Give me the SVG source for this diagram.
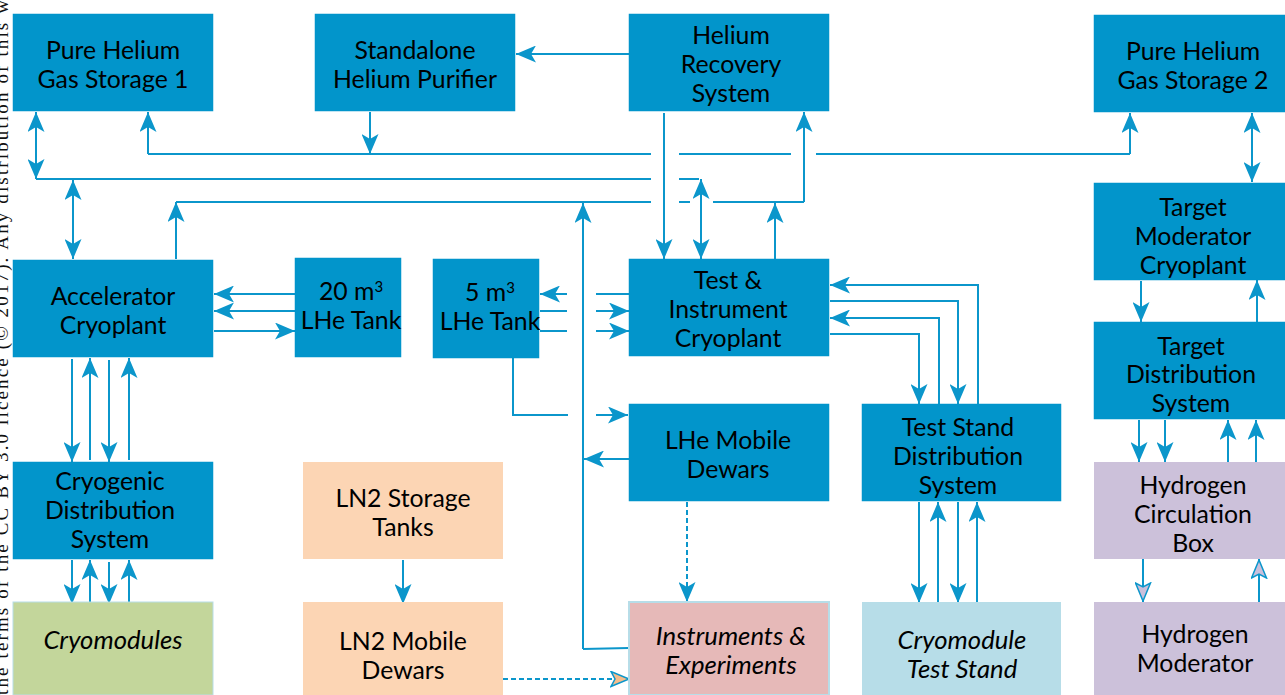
<svg xmlns="http://www.w3.org/2000/svg" width="1285" height="695" viewBox="0 0 1285 695">
<style>
.b{fill:#0295cb}.n{stroke:#0295cb;stroke-width:.5}
.t{font-family:"Lato","Open Sans",sans-serif;font-size:24.8px;fill:#000;text-anchor:middle}
.i{font-style:italic;font-size:25.7px}
.c{fill:none;stroke:#0b96cb;stroke-width:2}
.d{stroke-dasharray:5 3}
.m{font-family:"Liberation Serif",serif;font-size:19px;fill:#111}
</style>
<defs>
<marker id="a" viewBox="0 0 21 17" refX="20" refY="8.5" markerWidth="21" markerHeight="17" markerUnits="userSpaceOnUse" orient="auto-start-reverse"><path d="M0 0L20 8.5L0 17L5 8.5Z" fill="#0b96cb"/></marker>
<marker id="l" viewBox="0 0 21 17" refX="20" refY="8.5" markerWidth="21" markerHeight="17" markerUnits="userSpaceOnUse" orient="auto"><path d="M1 1L19 8.5L1 16L5 8.5Z" fill="#cbbfdb" stroke="#0b96cb" stroke-width="1.5"/></marker>
<marker id="o" viewBox="0 0 21 17" refX="20" refY="8.5" markerWidth="21" markerHeight="17" markerUnits="userSpaceOnUse" orient="auto"><path d="M1 1L19 8.5L1 16L5 8.5Z" fill="#f5bd8c" stroke="#0b96cb" stroke-width="1.5"/></marker>
</defs>
<text class="m" transform="translate(8,695) rotate(-90)" textLength="695">the terms of the CC BY 3.0 licence (© 2017). Any distribution of this w</text>
<g id="connectors">
<path class="c" marker-start="url(#a)" marker-end="url(#a)" d="M36 112V179"/>
<path class="c" d="M36 179H651M679 179H699"/>
<path class="c" marker-end="url(#a)" d="M148 154V112"/>
<path class="c" d="M148 154H651M679 154H791M816 154H1130"/>
<path class="c" marker-end="url(#a)" d="M1130 154V113"/>
<path class="c" marker-end="url(#a)" d="M370 112V154"/>
<path class="c" marker-start="url(#a)" marker-end="url(#a)" d="M73 180V259"/>
<path class="c" marker-end="url(#a)" d="M176 259V202"/>
<path class="c" d="M176 202H651M679 202H690M713 202H804"/>
<path class="c" marker-end="url(#a)" d="M804 202V112"/>
<path class="c" marker-end="url(#a)" d="M629 54H516"/>
<path class="c" marker-end="url(#a)" d="M664 113V259"/>
<path class="c" marker-start="url(#a)" marker-end="url(#a)" d="M701 179V259"/>
<path class="c" marker-end="url(#a)" d="M775 259V203"/>
<path class="c" marker-end="url(#a)" d="M583 649V203"/>
<path class="c" d="M629 648L583 649"/>
<path class="c" marker-end="url(#a)" d="M295 294H214"/>
<path class="c" marker-end="url(#a)" d="M295 311H214"/>
<path class="c" marker-end="url(#a)" d="M214 331H295"/>
<path class="c" marker-end="url(#a)" d="M567 294H540"/>
<path class="c" d="M596 294H629M540 311H567M540 331H567"/>
<path class="c" marker-end="url(#a)" d="M596 311H629"/>
<path class="c" marker-end="url(#a)" d="M596 331H629"/>
<path class="c" d="M513 358V415H568"/>
<path class="c" marker-end="url(#a)" d="M596 415H628"/>
<path class="c" marker-end="url(#a)" d="M629 459H584"/>
<path class="c" marker-end="url(#a)" d="M978 404V285H830"/>
<path class="c" marker-end="url(#a)" d="M939 404V318H830"/>
<path class="c" marker-end="url(#a)" d="M830 301H958V404"/>
<path class="c" marker-end="url(#a)" d="M830 334H919V404"/>
<path class="c" marker-end="url(#a)" d="M72 359V462"/>
<path class="c" marker-end="url(#a)" d="M90 460V358"/>
<path class="c" marker-end="url(#a)" d="M109 360V462"/>
<path class="c" marker-end="url(#a)" d="M129 460V358"/>
<path class="c" marker-end="url(#a)" d="M72 560V604"/>
<path class="c" marker-end="url(#a)" d="M90 602V560"/>
<path class="c" marker-end="url(#a)" d="M109 562V604"/>
<path class="c" marker-end="url(#a)" d="M129 602V560"/>
<path class="c" marker-end="url(#a)" d="M403 560V604"/>
<path class="c d" marker-end="url(#a)" d="M687 502V602"/>
<path class="c d" marker-end="url(#o)" d="M503 679H630"/>
<path class="c" marker-end="url(#a)" d="M919 502V603"/>
<path class="c" marker-end="url(#a)" d="M938 603V502"/>
<path class="c" marker-end="url(#a)" d="M958 502V603"/>
<path class="c" marker-end="url(#a)" d="M977 603V502"/>
<path class="c" marker-start="url(#a)" marker-end="url(#a)" d="M1252 113V182"/>
<path class="c" marker-end="url(#a)" d="M1141 281V322"/>
<path class="c" marker-end="url(#a)" d="M1257 322V280"/>
<path class="c" marker-end="url(#a)" d="M1139 420V462"/>
<path class="c" marker-end="url(#a)" d="M1165 420V462"/>
<path class="c" marker-end="url(#a)" d="M1228 462V420"/>
<path class="c" marker-end="url(#a)" d="M1256 462V420"/>
<path class="c" marker-end="url(#l)" d="M1143 556V602"/>
<path class="c" marker-end="url(#l)" d="M1259 602V559"/>
</g>
<g id="pure1"><rect class="b n" x="13" y="14" width="200" height="97"/><text class="t" x="113" y="59">Pure Helium</text><text class="t" x="113" y="88">Gas Storage 1</text></g>
<g id="purifier"><rect class="b n" x="315" y="14" width="200" height="97"/><text class="t" x="415" y="59">Standalone</text><text class="t" x="415" y="88">Helium Purifier</text></g>
<g id="recovery"><rect class="b n" x="629" y="14" width="200" height="97"/><text class="t" x="731" y="44">Helium</text><text class="t" x="731" y="73">Recovery</text><text class="t" x="731" y="102">System</text></g>
<g id="pure2"><rect class="b n" x="1094" y="15" width="191" height="97"/><text class="t" x="1193" y="60">Pure Helium</text><text class="t" x="1193" y="89">Gas Storage 2</text></g>
<g id="accel"><rect class="b n" x="13" y="260" width="200" height="97"/><text class="t" x="113" y="305">Accelerator</text><text class="t" x="113" y="334">Cryoplant</text></g>
<g id="tank20"><rect class="b n" x="295" y="258" width="106" height="99"/><text class="t" x="351" y="300">20 m<tspan font-size="15" dy="-8">3</tspan></text><text class="t" x="351" y="329">LHe Tank</text></g>
<g id="tank5"><rect class="b n" x="433" y="259" width="106" height="99"/><text class="t" x="490" y="301">5 m<tspan font-size="15" dy="-8">3</tspan></text><text class="t" x="490" y="330">LHe Tank</text></g>
<g id="testcryo"><rect class="b n" x="629" y="259" width="200" height="97"/><text class="t" x="728" y="289">Test &amp;</text><text class="t" x="728" y="318">Instrument</text><text class="t" x="728" y="347">Cryoplant</text></g>
<g id="target"><rect class="b n" x="1094" y="183" width="191" height="97"/><text class="t" x="1193" y="216">Target</text><text class="t" x="1193" y="245">Moderator</text><text class="t" x="1193" y="274">Cryoplant</text></g>
<g id="targetdist"><rect class="b n" x="1094" y="322" width="191" height="97"/><text class="t" x="1191" y="355">Target</text><text class="t" x="1191" y="383">Distribution</text><text class="t" x="1191" y="412">System</text></g>
<g id="mobile"><rect class="b n" x="629" y="404" width="200" height="97"/><text class="t" x="728" y="449">LHe Mobile</text><text class="t" x="728" y="478">Dewars</text></g>
<g id="tsdist"><rect class="b n" x="862" y="404" width="199" height="97"/><text class="t" x="958" y="436">Test Stand</text><text class="t" x="958" y="465">Distribution</text><text class="t" x="958" y="494">System</text></g>
<g id="cryodist"><rect class="b n" x="13" y="462" width="200" height="97"/><text class="t" x="110" y="490">Cryogenic</text><text class="t" x="110" y="519">Distribution</text><text class="t" x="110" y="548">System</text></g>
<g id="ln2tanks"><rect x="303" y="462" width="200" height="97" fill="#fcd5b4"/><text class="t" x="403" y="507">LN2 Storage</text><text class="t" x="403" y="536">Tanks</text></g>
<g id="h2box"><rect x="1094" y="462" width="191" height="97" fill="#ccc1da"/><text class="t" x="1193" y="494">Hydrogen</text><text class="t" x="1193" y="523">Circulation</text><text class="t" x="1193" y="552">Box</text></g>
<g id="cryomods"><rect x="13" y="602" width="200" height="93" fill="#c3d69b" stroke="#b7dde8"/><text class="t i" x="113" y="649">Cryomodules</text></g>
<g id="ln2mobile"><rect x="303" y="602" width="200" height="93" fill="#fcd5b4"/><text class="t" x="403" y="650">LN2 Mobile</text><text class="t" x="403" y="679">Dewars</text></g>
<g id="instruments"><rect x="629" y="602" width="200" height="93" fill="#e6b9b8" stroke="#b7dde8" stroke-width="2"/><text class="t i" x="731" y="645">Instruments &amp;</text><text class="t i" x="731" y="674">Experiments</text></g>
<g id="teststand"><rect x="862" y="602" width="199" height="93" fill="#b7dde8"/><text class="t i" x="962" y="649">Cryomodule</text><text class="t i" x="962" y="678">Test Stand</text></g>
<g id="h2mod"><rect x="1094" y="602" width="191" height="93" fill="#ccc1da"/><text class="t" x="1195" y="643">Hydrogen</text><text class="t" x="1195" y="672">Moderator</text></g>
</svg>
